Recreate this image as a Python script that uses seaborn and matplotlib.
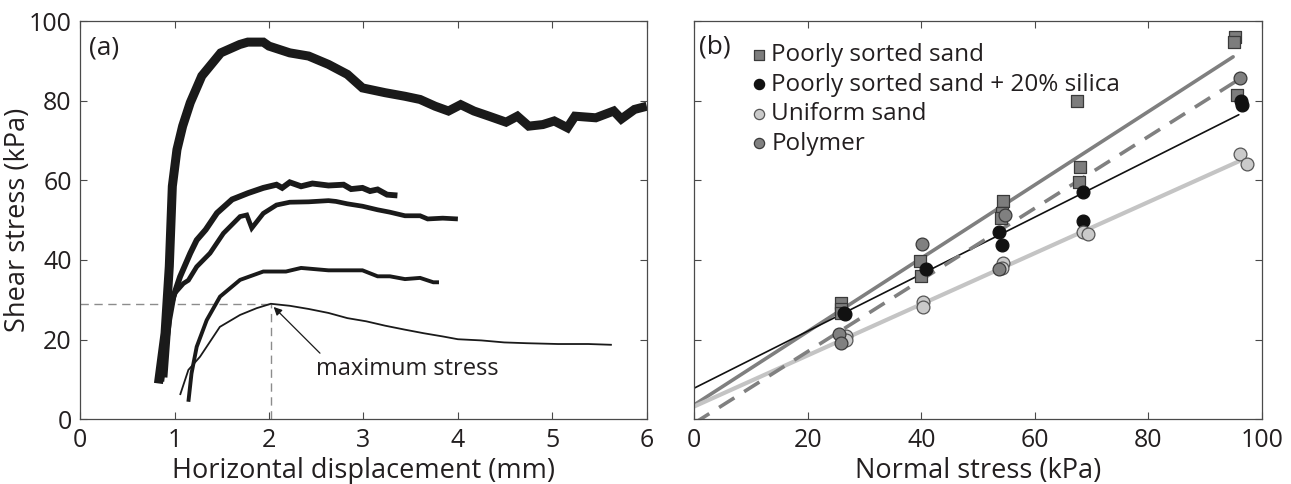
import numpy as np
import pandas as pd
import matplotlib
matplotlib.use("Agg")
import matplotlib.pyplot as plt
import seaborn as sns

# ---------------- (a) shear stress vs. horizontal displacement ----------------
disp_1 = [0.83, 0.90, 0.945, 0.977, 1.026, 1.086, 1.167, 1.289, 1.49, 1.69, 1.776, 1.94,
          2.0, 2.22, 2.42, 2.63, 2.83, 2.99, 3.23, 3.44, 3.6, 3.76, 3.9, 4.03, 4.17, 4.33,
          4.51, 4.63, 4.75, 4.9, 5.02, 5.16, 5.24, 5.46, 5.65, 5.73, 5.87, 6.0]
stress_1 = [9.0, 21.6, 38.4, 58.5, 67.7, 73.6, 79.5, 86.2, 92.0, 94.1, 94.7, 94.7,
            93.7, 92.0, 91.2, 89.1, 86.6, 83.2, 82.0, 81.1, 80.3, 78.6, 77.4, 79.0, 77.4, 76.1,
            74.6, 76.1, 73.6, 74.0, 74.9, 73.2, 76.1, 75.7, 77.4, 75.4, 77.8, 78.6]

disp_2 = [0.86, 0.944, 0.988, 1.059, 1.167, 1.235, 1.33, 1.45, 1.61, 1.78, 1.94, 2.08, 2.14,
          2.22, 2.34, 2.46, 2.63, 2.79, 2.87, 2.99, 3.07, 3.15, 3.25, 3.36]
stress_2 = [9.5, 25.0, 30.8, 35.8, 41.7, 45.0, 47.6, 51.8, 55.2, 56.8, 58.1, 58.9, 58.1,
            59.5, 58.5, 59.2, 58.7, 58.9, 57.8, 58.1, 57.3, 57.7, 56.4, 56.2]

disp_3 = [0.90, 0.953, 1.005, 1.094, 1.147, 1.235, 1.376, 1.518, 1.694, 1.765, 1.818, 1.94,
          2.08, 2.22, 2.42, 2.63, 2.71, 2.83, 2.99, 3.15, 3.28, 3.44, 3.6, 3.68, 3.84, 4.0]
stress_3 = [10.5, 27.4, 31.7, 34.1, 34.9, 38.3, 41.7, 46.7, 50.9, 51.3, 48.0, 51.7,
            53.8, 54.5, 54.6, 54.9, 54.7, 54.1, 53.5, 52.6, 52.0, 51.1, 51.1, 50.3, 50.5, 50.3]

disp_4 = [1.147, 1.18, 1.235, 1.341, 1.482, 1.694, 1.94, 2.18, 2.34, 2.63, 2.83, 2.99,
          3.15, 3.28, 3.44, 3.6, 3.74, 3.8]
stress_4 = [4.4, 11.5, 18.2, 24.9, 30.8, 35.0, 37.1, 37.1, 38.0, 37.4, 37.4, 37.4,
            35.9, 35.9, 35.2, 35.5, 34.4, 34.4]

disp_5 = [1.059, 1.147, 1.27, 1.48, 1.694, 1.87, 2.02, 2.22, 2.42, 2.63, 2.83, 3.03,
          3.23, 3.44, 3.64, 3.84, 4.0, 4.25, 4.49, 4.73, 5.06, 5.38, 5.63]
stress_5 = [6.1, 12.4, 15.7, 23.2, 26.2, 27.9, 29.0, 28.5, 27.7, 26.7, 25.4, 24.6,
            23.5, 22.5, 21.6, 20.8, 20.1, 19.8, 19.3, 19.1, 18.9, 18.9, 18.7]

curve_widths = [6.5, 4.2, 3.4, 2.8, 1.3]

peak_disp = 2.02
peak_stress = 29.0

# ---------------- (b) shear stress vs. normal stress ----------------
poorly_normal = [95.2, 95.1, 95.6, 67.5, 68.0, 67.7, 54.4, 54.2, 54.0, 39.7, 40.0, 25.9, 25.9, 25.9]
poorly_shear = [96.1, 94.7, 81.4, 80.0, 63.4, 59.5, 54.8, 51.8, 50.5, 39.8, 36.0, 29.3, 27.7, 26.7]

silica_normal = [96.3, 96.5, 68.4, 68.4, 53.7, 54.2, 40.9, 26.4, 26.6]
silica_shear = [79.8, 78.8, 57.0, 49.7, 46.9, 43.8, 37.7, 26.7, 26.4]

uniform_normal = [96.2, 97.3, 68.4, 69.4, 54.4, 54.2, 40.3, 40.3, 26.8, 26.8]
uniform_shear = [66.7, 64.1, 46.9, 46.5, 39.2, 38.0, 29.4, 28.2, 20.8, 19.8]

polymer_normal = [96.1, 54.7, 53.7, 40.2, 25.6, 25.8]
polymer_shear = [85.7, 51.4, 37.7, 44.0, 21.4, 19.1]

# Mohr-Coulomb fits: slope (tan phi) and intercept (cohesion, kPa)
fit_slope = [0.921, 0.716, 0.642, 0.900]
fit_intercept = [3.6, 7.8, 3.2, -1.0]
fit_end = [94.9, 95.9, 95.9, 95.9]

series_names = ["Poorly sorted sand", "Poorly sorted sand + 20% silica",
                "Uniform sand", "Polymer"]

# ---------------- styling ----------------
sns.set_theme(style="ticks")
plt.rcParams["font.family"] = ["Open Sans", "DejaVu Sans"]
plt.rcParams["font.size"] = 18
text_col = "#231f20"
spine_col = "#4a4a4a"
tick_fs = 18
label_fs = 19.5

fig = plt.figure(figsize=(12.91, 4.84), dpi=100)
ax_a = fig.add_axes([0.0620, 0.1337, 0.4390, 0.8229])
ax_b = fig.add_axes([0.5376, 0.1337, 0.4400, 0.8229])

for ax in (ax_a, ax_b):
    for s in ax.spines.values():
        s.set_color(spine_col)
        s.set_linewidth(0.9)
        s.set_visible(True)
    ax.tick_params(direction="in", length=5, width=0.8, color=spine_col,
                   top=True, right=True, labelsize=tick_fs, labelcolor=text_col)
    ax.tick_params(axis="x", pad=6)
    ax.tick_params(axis="y", pad=6)
    ax.set_facecolor("white")

# ---- panel (a)
curves = [(disp_1, stress_1), (disp_2, stress_2), (disp_3, stress_3),
          (disp_4, stress_4), (disp_5, stress_5)]
for (dx, sy), lw in zip(curves, curve_widths):
    sns.lineplot(x=dx, y=sy, ax=ax_a, color="#1a1a1a", linewidth=lw,
                 sort=False, estimator=None, solid_capstyle="butt",
                 solid_joinstyle="miter")

ax_a.plot([0, peak_disp], [peak_stress, peak_stress], ls=(0, (6, 4)),
          color="#8c8c8c", lw=1.0, zorder=1)
ax_a.plot([peak_disp, peak_disp], [0, peak_stress], ls=(0, (6, 4)),
          color="#8c8c8c", lw=1.0, zorder=1)
ax_a.annotate("", xy=(peak_disp + 0.03, peak_stress - 0.8), xytext=(2.54, 16.6),
              arrowprops=dict(arrowstyle="-|>", color="#1a1a1a", lw=0.9,
                              mutation_scale=12, shrinkA=0, shrinkB=0))
ax_a.text(2.5, 12.6, "maximum stress", fontsize=17, color=text_col,
          ha="left", va="center")
ax_a.text(0.09, 93.3, "(a)", fontsize=19, color=text_col, ha="left", va="center")

ax_a.set_xlim(0, 6)
ax_a.set_ylim(0, 100)
ax_a.set_xticks(range(0, 7))
ax_a.set_yticks(range(0, 101, 20))
ax_a.set_xlabel("Horizontal displacement (mm)", fontsize=label_fs, color=text_col, labelpad=3)
ax_a.set_ylabel("Shear stress (kPa)", fontsize=label_fs, color=text_col)
ax_a.yaxis.set_label_coords(-0.085, 0.5)

# ---- panel (b): fit lines
fit_styles = [
    dict(color="#7f7f7f", linewidth=2.6, linestyle="-"),
    dict(color="#111111", linewidth=1.2, linestyle="-"),
    dict(color="#c4c4c4", linewidth=3.0, linestyle="-"),
    dict(color="#808080", linewidth=2.6, linestyle=(0, (5, 3.2))),
]
for m, c, xe, st in zip(fit_slope, fit_intercept, fit_end, fit_styles):
    xs = np.array([0.0, xe])
    sns.lineplot(x=xs, y=c + m * xs, ax=ax_b, zorder=2, **st)

marker_sets = [
    (poorly_normal, poorly_shear, dict(marker="s", color="#7d7d7d", edgecolor="#3a3a3a")),
    (silica_normal, silica_shear, dict(marker="o", color="#111111", edgecolor="#111111")),
    (uniform_normal, uniform_shear, dict(marker="o", color="#cacaca", edgecolor="#555555")),
    (polymer_normal, polymer_shear, dict(marker="o", color="#808080", edgecolor="#3a3a3a")),
]
for (xs, ys, st), name in zip(marker_sets, series_names):
    sns.scatterplot(x=xs, y=ys, ax=ax_b, s=85, linewidth=0.9, zorder=3,
                    label=name, **st)

ax_b.set_xlim(0, 100)
ax_b.set_ylim(0, 100)
ax_b.set_xticks(range(0, 101, 20))
ax_b.set_yticks(range(0, 101, 20))
ax_b.set_yticklabels([])
ax_b.set_xlabel("Normal stress (kPa)", fontsize=label_fs, color=text_col, labelpad=3)
ax_b.set_ylabel("")
ax_b.text(0.008, 0.935, "(b)", transform=ax_b.transAxes, fontsize=19,
          color=text_col, ha="left", va="center")

leg = ax_b.legend(loc="upper left", bbox_to_anchor=(0.078, 0.968), frameon=False,
                  fontsize=17.5, handletextpad=0.05, handlelength=0.9,
                  labelspacing=0.22, borderaxespad=0.0, markerscale=0.8)
for t in leg.get_texts():
    t.set_color(text_col)

fig.savefig("out.png", dpi=100, facecolor="white")
